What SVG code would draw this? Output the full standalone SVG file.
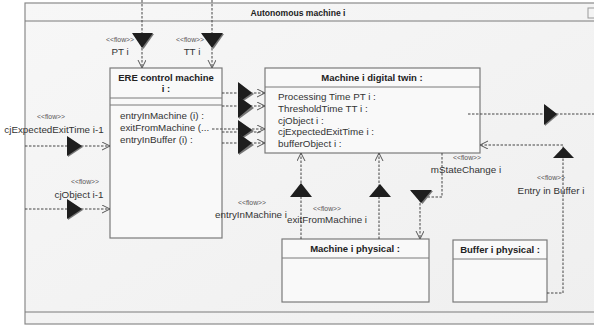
<svg xmlns="http://www.w3.org/2000/svg" width="594" height="327" viewBox="0 0 594 327">
<defs>
<style>
.frame{fill:#f3f3f3;stroke:#8a8a8a;stroke-width:1.2}
.box{fill:#f9f9f9;stroke:#7a7a7a;stroke-width:1.2}
.div{stroke:#7a7a7a;stroke-width:1}
.t{font-family:"Liberation Sans",Arial,sans-serif;fill:#333}
.title{font-size:9.5px;font-weight:bold;fill:#222}
.ftitle{font-size:8.6px;font-weight:bold;fill:#222}
.attr{font-size:9.8px}
.st{font-size:6.8px;fill:#555}
.lbl{font-size:9.8px}
.con{fill:none;stroke:#444;stroke-width:1;stroke-dasharray:2.5,1.5}
.tri{fill:#1e1e1e}
.sh{fill:#777}
</style>
<marker id="open" markerWidth="10" markerHeight="10" refX="8" refY="4" orient="auto" markerUnits="userSpaceOnUse">
<path d="M0,0 L8,4 L0,8" fill="none" stroke="#555" stroke-width="1"/>
</marker>
<linearGradient id="bg" x1="0" y1="0" x2="1" y2="1">
<stop offset="0" stop-color="#f7f7f7"/>
<stop offset="1" stop-color="#efefef"/>
</linearGradient>
</defs>
<rect width="594" height="327" fill="#ffffff"/>
<g id="frame">
<rect x="25" y="3" width="575" height="321" fill="url(#bg)" stroke="#8a8a8a" stroke-width="1.2"/>
<line x1="25" y1="21" x2="600" y2="21" class="div"/>
<line x1="25" y1="312" x2="600" y2="312" class="div"/>
<rect x="588" y="8" width="10" height="10" fill="#f4f4f4" stroke="#999" stroke-width="1"/>
<text x="298" y="15.5" text-anchor="middle" class="t ftitle">Autonomous machine i</text>
</g>
<g id="ere">
<rect x="110" y="68" width="112" height="170" class="box"/>
<line x1="110" y1="98" x2="222" y2="98" class="div"/>
<line x1="110" y1="105" x2="222" y2="105" class="div"/>
<text x="166" y="81" text-anchor="middle" class="t title">ERE control  machine</text>
<text x="166" y="92" text-anchor="middle" class="t title">i :</text>
<text x="120" y="119" class="t attr">entryInMachine (i) :</text>
<text x="120" y="131" class="t attr">exitFromMachine (...</text>
<text x="120" y="143" class="t attr">entryInBuffer (i) :</text>
</g>
<g id="twin">
<rect x="265" y="68" width="215" height="85" class="box"/>
<line x1="265" y1="87" x2="480" y2="87" class="div"/>
<text x="372" y="80.5" text-anchor="middle" class="t title">Machine i digital twin :</text>
<text x="278" y="99.5" class="t attr">Processing Time PT i :</text>
<text x="278" y="111.5" class="t attr">ThresholdTime TT i :</text>
<text x="278" y="123.5" class="t attr">cjObject i :</text>
<text x="278" y="135" class="t attr">cjExpectedExitTime i :</text>
<text x="278" y="147" class="t attr">bufferObject i :</text>
</g>
<g id="machinePhysical">
<rect x="282" y="239" width="147" height="63" class="box"/>
<line x1="282" y1="258" x2="429" y2="258" class="div"/>
<text x="355" y="252" text-anchor="middle" class="t title">Machine i physical :</text>
</g>
<g id="bufferPhysical">
<rect x="453" y="240" width="94" height="62" class="box"/>
<line x1="453" y1="259" x2="547" y2="259" class="div"/>
<text x="500" y="252.5" text-anchor="middle" class="t title">Buffer i physical :</text>
</g>
<g id="connectors">
<path d="M142,0 V68" class="con" marker-end="url(#open)"/>
<polygon points="133,34 154,34 143.5,49" class="sh"/>
<polygon points="132,33 153,33 142,48" class="tri"/>
<text x="120" y="42" text-anchor="middle" class="t st">&lt;&lt;flow&gt;&gt;</text>
<text x="120" y="55" text-anchor="middle" class="t lbl">PT i</text>
<path d="M212,0 V68" class="con" marker-end="url(#open)"/>
<polygon points="202,34 224,34 213.5,49" class="sh"/>
<polygon points="201,33 223,33 212,48" class="tri"/>
<text x="190" y="42" text-anchor="middle" class="t st">&lt;&lt;flow&gt;&gt;</text>
<text x="192" y="55" text-anchor="middle" class="t lbl">TT i</text>
<path d="M222,93 H265" class="con" marker-end="url(#open)"/>
<path d="M222,106 H265" class="con" marker-end="url(#open)"/>
<path d="M212,129 H265" class="con" marker-end="url(#open)"/>
<path d="M222,132 H262" class="con"/>
<path d="M222,143 H265" class="con" marker-end="url(#open)"/>
<polygon points="239,83 239,104 254,94" class="sh"/>
<polygon points="238,82 238,103 252,93" class="tri"/>
<polygon points="239,97 239,119 254,108" class="sh"/>
<polygon points="238,96 238,118 252,106" class="tri"/>
<polygon points="239,121 239,141 254,131" class="sh"/>
<polygon points="238,120 238,140 252,130" class="tri"/>
<polygon points="239,134 239,155 254,145" class="sh"/>
<polygon points="238,133 238,154 252,143" class="tri"/>
<path d="M25,146 H110" class="con" marker-end="url(#open)"/>
<polygon points="68,137 68,157 83,147" class="sh"/>
<polygon points="67,136 67,156 82,146" class="tri"/>
<text x="51" y="119" text-anchor="middle" class="t st">&lt;&lt;flow&gt;&gt;</text>
<text x="54" y="133" text-anchor="middle" class="t lbl">cjExpectedExitTime i-1</text>
<path d="M25,209 H110" class="con" marker-end="url(#open)"/>
<polygon points="68,200 68,220 83,210" class="sh"/>
<polygon points="67,199 67,219 82,209" class="tri"/>
<text x="85" y="184" text-anchor="middle" class="t st">&lt;&lt;flow&gt;&gt;</text>
<text x="79" y="198" text-anchor="middle" class="t lbl">cjObject i-1</text>
<path d="M468,114 H594" class="con"/>
<polygon points="545,105 545,126 558,115" class="sh"/>
<polygon points="544,104 544,125 557,114" class="tri"/>
<path d="M547,293 H563 V145 H480" class="con" marker-end="url(#open)"/>
<polygon points="553,158 574,158 563.5,147" class="tri"/>
<text x="551" y="180" text-anchor="middle" class="t st">&lt;&lt;flow&gt;&gt;</text>
<text x="551" y="194" text-anchor="middle" class="t lbl">Entry in Buffer i</text>
<path d="M442,153 V197 H420 V239" class="con" marker-end="url(#open)"/>
<polygon points="411,191 433,191 422.5,204" class="sh"/>
<polygon points="410,190 432,190 421,203" class="tri"/>
<text x="467" y="160" text-anchor="middle" class="t st">&lt;&lt;flow&gt;&gt;</text>
<text x="466" y="173" text-anchor="middle" class="t lbl">mStateChange i</text>
<path d="M301,239 V153" class="con" marker-end="url(#open)"/>
<polygon points="290,197 312,197 301,183" class="tri"/>
<text x="252" y="205" text-anchor="middle" class="t st">&lt;&lt;flow&gt;&gt;</text>
<text x="251" y="218" text-anchor="middle" class="t lbl">entryInMachine i</text>
<path d="M379,239 V153" class="con" marker-end="url(#open)"/>
<polygon points="369,197 391,197 380,184" class="tri"/>
<text x="327" y="211" text-anchor="middle" class="t st">&lt;&lt;flow&gt;&gt;</text>
<text x="327" y="223" text-anchor="middle" class="t lbl">exitFromMachine i</text>
</g>
</svg>
